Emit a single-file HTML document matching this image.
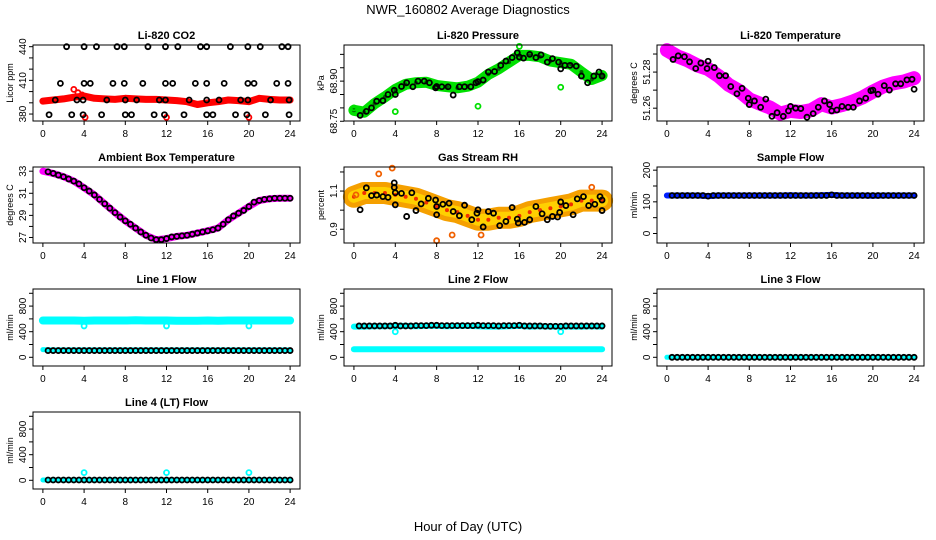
<!DOCTYPE html>
<html><head><meta charset="utf-8"><style>
body{margin:0;background:#fff}
svg{display:block;font-family:"Liberation Sans",sans-serif}
</style></head><body>
<svg id="c" width="936" height="540" viewBox="0 0 936 540" xmlns="http://www.w3.org/2000/svg">
<rect width="936" height="540" fill="#fff"/>
<text x="468" y="14" font-size="13" text-anchor="middle">NWR_160802  Average Diagnostics</text>
<text x="468" y="531" font-size="13" text-anchor="middle">Hour of Day (UTC)</text>
</svg>
<script>
// shared hourly x for bands
const bandX=[0,1,2,3,4,5,6,7,8,9,10,11,12,13,14,15,16,17,18,19,20,21,22,23,24];
const halfX=[0.5,1,1.5,2,2.5,3,3.5,4,4.5,5,5.5,6,6.5,7,7.5,8,8.5,9,9.5,10,10.5,11,11.5,12,12.5,13,13.5,14,14.5,15,15.5,16,16.5,17,17.5,18,18.5,19,19.5,20,20.5,21,21.5,22,22.5,23,23.5,24];
const xTicks=[0,4,8,12,16,20,24];
// CO2
const co2Band=[391.5,392.5,393.5,395,396,394,393.5,393,394,393.5,393,393,392.5,392,391,388.5,390,391,392.5,392,391,394,393,392.5,392.5];
const co2BlackX=[2.3,4.0,5.2,7.2,7.9,10.2,11.9,13.1,15.3,15.9,18.2,19.9,21.1,23.2,23.8,1.7,4.0,4.6,6.8,7.9,9.7,11.9,12.6,14.8,15.9,17.6,19.9,20.5,22.7,23.8,1.2,3.3,3.9,6.2,8.0,9.1,11.3,11.9,14.2,15.9,17.1,19.2,19.9,22.1,23.9,0.6,2.8,3.9,5.7,8.0,8.6,10.8,11.8,13.7,15.9,16.5,18.7,19.8,21.6,23.9];
const co2BlackY=[440,440,440,440,440,440,440,440,440,440,440,440,440,440,440,407.3,407.3,407.3,407.3,407.3,407.3,407.3,407.3,407.3,407.3,407.3,407.3,407.3,407.3,407.3,392.5,392.5,392.5,392.5,392.5,392.5,392.5,392.5,392.5,392.5,392.5,392.5,392.5,392.5,392.5,379.4,379.4,379.4,379.4,379.4,379.4,379.4,379.4,379.4,379.4,379.4,379.4,379.4,379.4,379.4];
const co2RedX=[4.1,12.0,20.0,3.0,3.4,3.8];
const co2RedY=[377,377,377,402,399,397];
// Pressure
const presBand=[68.791,68.784,68.816,68.841,68.869,68.888,68.894,68.896,68.884,68.879,68.875,68.881,68.896,68.925,68.946,68.971,68.996,68.996,68.991,68.975,68.969,68.963,68.934,68.906,68.921];
const presBlackX=[0.6,1.2,1.7,2.2,2.8,3.3,3.9,4.0,4.6,5.1,5.7,6.2,6.8,7.3,7.9,8.0,8.5,9.1,9.6,10.2,10.7,11.3,11.8,12.0,12.5,13.0,13.6,14.2,14.7,15.3,15.8,16.0,16.4,17.0,17.6,18.1,18.7,19.2,19.8,20.0,20.4,20.9,21.5,22.0,22.6,23.2,23.7,24.0];
const presBlackY=[68.772,68.787,68.800,68.825,68.827,68.850,68.866,68.850,68.880,68.894,68.879,68.900,68.900,68.894,68.875,68.880,68.879,68.879,68.848,68.879,68.879,68.879,68.894,68.898,68.904,68.934,68.936,68.959,68.975,68.988,69.006,68.990,68.986,69.000,68.988,68.998,68.971,68.984,68.971,68.946,68.959,68.959,68.956,68.919,68.894,68.919,68.934,68.919];
const presOutX=[4.0,12.0,20.0,16.0,0.0];
const presOutY=[68.786,68.806,68.877,69.030,68.80];
// Li-820 temperature
const tempBand=[51.2921,51.2888,51.2865,51.2836,51.2817,51.2779,51.2729,51.2697,51.2649,51.2626,51.2604,51.2570,51.2585,51.2579,51.2589,51.2622,51.2604,51.2617,51.2636,51.2660,51.2692,51.2720,51.2738,51.2748,51.2766];
const tempBlackX=[0.6,1.1,1.7,2.2,2.8,3.3,3.9,4.0,4.6,5.1,5.7,6.2,6.8,7.3,7.9,8.0,8.5,9.1,9.6,10.2,10.7,11.3,11.8,12.0,12.5,13.0,13.6,14.2,14.7,15.3,15.8,16.0,16.5,17.0,17.6,18.1,18.7,19.3,19.8,20.0,20.5,21.1,21.6,22.2,22.7,23.3,23.8,24.0];
const tempBlackY=[51.2870,51.2890,51.2885,51.2857,51.2820,51.2850,51.2820,51.2860,51.2825,51.2780,51.2780,51.2720,51.2680,51.2710,51.2655,51.2620,51.2640,51.2605,51.2650,51.2555,51.2575,51.2555,51.2585,51.2610,51.2600,51.2598,51.2550,51.2570,51.2605,51.2640,51.2620,51.2585,51.2590,51.2610,51.2605,51.2605,51.2640,51.2655,51.2697,51.2700,51.2677,51.2725,51.2700,51.2735,51.2735,51.2757,51.2760,51.2705];
// Ambient box temperature
const ambBand=[33.0,32.8,32.5,32.1,31.5,30.85,30.05,29.25,28.5,27.85,27.2,26.8,26.9,27.1,27.2,27.4,27.6,27.85,28.6,29.2,29.8,30.35,30.5,30.55,30.55];
const ambBlackY=[32.95,32.8,32.65,32.5,32.3,32.1,31.85,31.5,31.2,30.85,30.45,30.05,29.65,29.25,28.85,28.5,28.2,27.85,27.5,27.2,26.95,26.8,26.8,26.9,27.05,27.1,27.15,27.2,27.3,27.4,27.5,27.6,27.7,27.85,28.2,28.6,28.95,29.2,29.45,29.8,30.2,30.35,30.45,30.5,30.55,30.55,30.55,30.55];
// Gas stream RH
const rhBand=[1.07,1.09,1.09,1.09,1.08,1.07,1.06,1.04,1.02,1.0,0.99,0.97,0.95,0.95,0.96,0.96,0.97,0.99,1.0,1.01,1.02,1.03,1.05,1.05,1.05];
const rhBlackX=[0.6,1.2,1.7,2.2,2.8,3.3,3.9,3.9,4.0,4.0,4.6,5.1,5.6,6.0,6.5,7.2,7.9,8.0,8.0,8.6,9.2,9.6,10.2,10.7,11.4,11.9,12.0,12.5,13.0,13.5,14.1,14.7,15.3,15.8,15.9,16.5,17.0,17.6,18.2,18.7,19.2,19.7,19.9,20.0,20.5,21.2,21.6,22.2,22.7,23.3,23.8,24.0,24.0];
const rhBlackY=[1.002,1.117,1.076,1.079,1.071,1.067,1.143,1.119,1.091,1.028,1.088,0.967,1.091,0.998,1.033,1.062,1.053,1.019,0.976,1.031,1.036,0.993,0.971,1.026,0.950,0.984,1.002,0.912,0.993,0.984,0.919,0.941,1.014,0.953,0.933,0.936,0.950,1.019,0.981,0.950,0.967,0.964,0.988,1.043,1.024,0.976,1.059,1.071,1.024,1.031,1.071,1.053,0.998];
const rhOutX=[8.0,3.7,2.4,9.5,12.3,0.2,23.0];
const rhOutY=[0.84,1.22,1.19,0.87,0.87,1.08,1.12];
// Flows
const sampleBand=[120,120,120,120,118,120,120,120,120,120,120,120,121,120,120,121,122,120,120,120,119,120,120,120,120];
const sampleBlack=[120,120,120,120,120,120,120,118,120,120,120,120,120,120,120,120,120,120,120,120,120,120,120,120,120,120,120,120,120,120,120,122,120,120,120,120,120,120,120,120,120,120,120,120,120,120,120,120];
const line1Cyan=[575,575,575,575,570,575,575,575,575,578,575,575,575,570,572,570,575,570,575,575,575,575,575,575,575];
const line1CyanLow=[120,115,115,115,115,115,115,115,115,115,115,115,115,115,115,115,115,115,115,115,115,115,115,115,115];
const line1Black=[105,105,105,105,105,105,105,105,105,105,105,105,105,105,105,105,105,105,105,105,105,105,105,105,105,105,105,105,105,105,105,105,105,105,105,105,105,105,105,105,105,105,105,105,105,105,105,105];
const line1OutX=[4,12,20];
const line1OutY=[490,490,490];
const line2CyanHigh=[480,480,485,485,490,490,485,490,490,485,490,490,485,480,480,485,490,480,485,480,480,480,480,485,480];
const line2CyanLow=[125,125,125,125,125,125,125,125,125,125,125,125,125,125,125,125,125,125,125,125,125,125,125,125,125];
const line2Black=[490,490,490,490,490,490,490,500,490,490,490,495,495,495,500,500,495,495,495,495,495,495,495,500,495,495,495,490,495,495,495,500,490,490,490,490,485,485,485,485,490,490,490,490,490,490,490,490];
const line2OutX=[4,20];
const line2OutY=[400,400];
const line3Cyan=[0,0,0,0,0,0,0,0,0,0,0,0,0,0,0,0,0,0,0,0,0,0,0,0,0];
const line3Black=[0,0,0,0,0,0,0,0,0,0,0,0,0,0,0,0,0,0,0,0,0,0,0,0,0,0,0,0,0,0,0,0,0,0,0,0,0,0,0,0,0,0,0,0,0,0,0,0];
const line4Cyan=[5,5,5,5,5,5,5,5,5,5,5,5,5,5,5,5,5,5,5,5,5,5,5,5,5];
const line4Black=[5,5,5,5,5,5,5,5,5,5,5,5,5,5,5,5,5,5,5,5,5,5,5,5,5,5,5,5,5,5,5,5,5,5,5,5,5,5,5,5,5,5,5,5,5,5,5,5];
const line4OutX=[4,12,20];
const line4OutY=[120,120,120];

const svg=document.getElementById('c');
const NS='http://www.w3.org/2000/svg';
function mk(tag,attrs,parent){const e=document.createElementNS(NS,tag);for(const k in attrs)e.setAttribute(k,attrs[k]);(parent||svg).appendChild(e);return e;}
const cols=[[33,300],[344,612],[657,924]];
const rows=[[45,121],[167,243],[289,366],[412,489]];

function panel(p){
  const [bx0,bx1]=cols[p.col],[by0,by1]=rows[p.row];
  const g=mk('g',{});
  
  
  const xs=v=>bx0+(v+0.96)/25.92*(bx1-bx0);
  const ys=v=>by1-(v-p.yd[0])/(p.yd[1]-p.yd[0])*(by1-by0);
  const t=mk('text',{x:(bx0+bx1)/2,y:by0-6,'font-size':11,'font-weight':'bold','text-anchor':'middle'},g);
  t.textContent=p.title;
  
  
  const plot=mk('g',{},g);
  
  
  p.series.forEach(s=>{
    const X=s.x, Y=s.y;
    if(s.type==='band'){
      let d='';X.forEach((x,i)=>{d+=(i?'L':'M')+xs(x).toFixed(1)+' '+ys(Y[i]).toFixed(1);});
      const pl=mk('path',{d:d,fill:'none',stroke:s.color,'stroke-width':s.w,'stroke-linejoin':'round','stroke-linecap':'round'},plot);
      
      
      if(s.dots){X.forEach((x,i)=>{const c=mk('circle',{cx:xs(x),cy:ys(Y[i]),r:2,fill:s.dots},plot);
        
        });}
    } else {
      X.forEach((x,i)=>{const c=mk('circle',{cx:xs(x),cy:ys(Y[i]),r:s.r||2.5,fill:'none',stroke:s.color,'stroke-width':s.sw||1.8},plot);
        
        });
    }
  });
  const box=mk('rect',{x:bx0,y:by0,width:bx1-bx0,height:by1-by0,fill:'none',stroke:'#000','stroke-width':1},g);
  
  
  const xa=mk('g',{},g);
  
  
  mk('line',{x1:xs(0),x2:xs(24),y1:by1,y2:by1,stroke:'#000'},xa);
  xTicks.forEach(v=>{mk('line',{x1:xs(v),x2:xs(v),y1:by1,y2:by1+4,stroke:'#000'},xa);
    const l=mk('text',{x:xs(v),y:by1+16,'font-size':10,'text-anchor':'middle'},xa);l.textContent=v;
    
    });
  const ya=mk('g',{},g);
  
  
  const yt=p.yticks;
  mk('line',{x1:bx0,x2:bx0,y1:ys(yt[0]),y2:ys(yt[yt.length-1]),stroke:'#000'},ya);
  yt.forEach((v,i)=>{const y=ys(v);mk('line',{x1:bx0-4,x2:bx0,y1:y,y2:y,stroke:'#000'},ya);
    if(p.ylabels[i]){const l=mk('text',{x:0,y:0,'font-size':10,'text-anchor':'middle',transform:`translate(${bx0-7},${y}) rotate(-90)`},ya);l.textContent=p.ylabels[i];
      
      }});
  const yl=mk('text',{x:0,y:0,'font-size':9,'text-anchor':'middle',transform:`translate(${bx0-20},${(by0+by1)/2}) rotate(-90)`},g);
  yl.textContent=p.ylab;
  
  
}
const flowTicks=[0,200,400,600,800,1000], flowLabels=['0','','400','','800',''];
const panels=[
 {name:'co2-panel',col:0,row:0,title:'Li-820 CO2',ylab:'Licor ppm',yd:[373.8,441.5],yticks:[380,390,400,410,420,430,440],ylabels:['380','','','410','','','440'],
  series:[{type:'band',x:bandX,y:co2Band,color:'#f00',w:7},{type:'pts',x:co2RedX,y:co2RedY,color:'#f00'},{type:'pts',x:co2BlackX,y:co2BlackY,color:'#000'}]},
 {name:'pressure-panel',col:1,row:0,title:'Li-820 Pressure',ylab:'kPa',yd:[68.751,69.035],yticks:[68.75,68.80,68.85,68.90,68.95,69.00],ylabels:['68.75','','','68.90','',''],
  series:[{type:'band',x:bandX,y:presBand,color:'#00e000',w:11,dots:'#006000'},{type:'pts',x:presOutX,y:presOutY,color:'#00e000'},{type:'pts',x:presBlackX,y:presBlackY,color:'#000'}]},
 {name:'temperature-panel',col:2,row:0,title:'Li-820 Temperature',ylab:'degrees C',yd:[51.2529,51.295],yticks:[51.26,51.27,51.28,51.29],ylabels:['51.26','','51.28',''],
  series:[{type:'band',x:bandX,y:tempBand,color:'#f0f',w:14},{type:'pts',x:tempBlackX,y:tempBlackY,color:'#000'}]},
 {name:'ambient-temp-panel',col:0,row:1,title:'Ambient Box Temperature',ylab:'degrees C',yd:[26.5,33.38],yticks:[27,28,29,30,31,32,33],ylabels:['27','','29','','31','','33'],
  series:[{type:'band',x:bandX,y:ambBand,color:'#f0f',w:7},{type:'pts',x:halfX,y:ambBlackY,color:'#000'}]},
 {name:'rh-panel',col:1,row:1,title:'Gas Stream RH',ylab:'percent',yd:[0.828,1.226],yticks:[0.9,1.0,1.1,1.2],ylabels:['0.9','','1.1',''],
  series:[{type:'band',x:bandX,y:rhBand,color:'#f5a000',w:22},{type:'band',x:bandX,y:rhBand,color:'#ffd000',w:12,dots:'#f03000'},{type:'pts',x:rhOutX,y:rhOutY,color:'#f06000'},{type:'pts',x:rhBlackX,y:rhBlackY,color:'#000'}]},
 {name:'sample-flow-panel',col:2,row:1,title:'Sample Flow',ylab:'ml/min',yd:[-30,210],yticks:[0,50,100,150,200],ylabels:['0','','100','','200'],
  series:[{type:'band',x:bandX,y:sampleBand,color:'#0020ff',w:6},{type:'pts',x:halfX,y:sampleBlack,color:'#000'}]},
 {name:'line1-flow-panel',col:0,row:2,title:'Line 1 Flow',ylab:'ml/min',yd:[-136,1067],yticks:flowTicks,ylabels:flowLabels,
  series:[{type:'band',x:bandX,y:line1Cyan,color:'#00ffff',w:8},{type:'band',x:bandX,y:line1CyanLow,color:'#00ffff',w:5},{type:'pts',x:line1OutX,y:line1OutY,color:'#00ffff'},{type:'pts',x:halfX,y:line1Black,color:'#000'}]},
 {name:'line2-flow-panel',col:1,row:2,title:'Line 2 Flow',ylab:'ml/min',yd:[-136,1067],yticks:flowTicks,ylabels:flowLabels,
  series:[{type:'band',x:bandX,y:line2CyanHigh,color:'#00ffff',w:6},{type:'band',x:bandX,y:line2CyanLow,color:'#00ffff',w:6},{type:'pts',x:line2OutX,y:line2OutY,color:'#00ffff'},{type:'pts',x:halfX,y:line2Black,color:'#000'}]},
 {name:'line3-flow-panel',col:2,row:2,title:'Line 3 Flow',ylab:'ml/min',yd:[-136,1067],yticks:flowTicks,ylabels:flowLabels,
  series:[{type:'band',x:bandX,y:line3Cyan,color:'#00ffff',w:5},{type:'pts',x:halfX,y:line3Black,color:'#000'}]},
 {name:'line4-flow-panel',col:0,row:3,title:'Line 4 (LT) Flow',ylab:'ml/min',yd:[-136,1067],yticks:flowTicks,ylabels:flowLabels,
  series:[{type:'band',x:bandX,y:line4Cyan,color:'#00ffff',w:5},{type:'pts',x:line4OutX,y:line4OutY,color:'#00ffff'},{type:'pts',x:halfX,y:line4Black,color:'#000'}]}
];
panels.forEach(panel);
</script>
</body></html>
